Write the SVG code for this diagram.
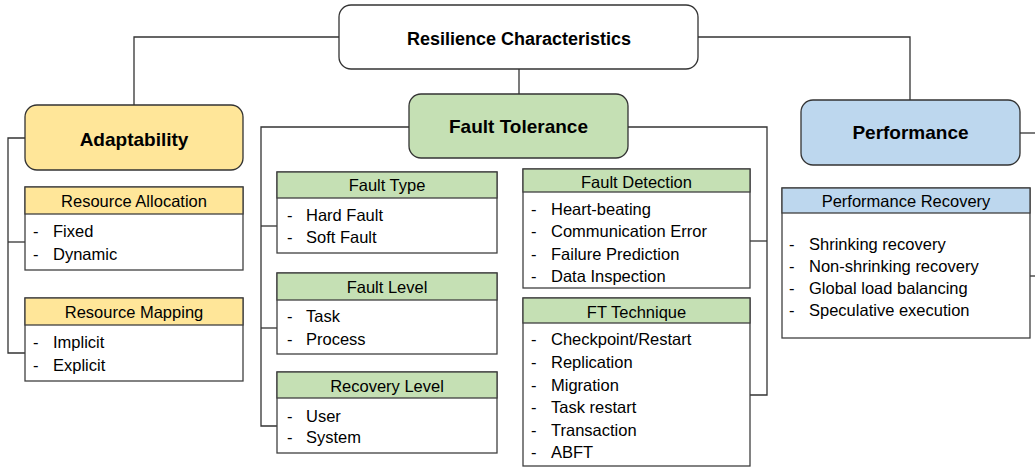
<svg xmlns="http://www.w3.org/2000/svg" width="1035" height="467" viewBox="0 0 1035 467">
  <style>
    text { font-family: "Liberation Sans", Arial, sans-serif; fill: #000; }
    .title { font-size: 19px; font-weight: bold; text-anchor: middle; }
    .root-title { font-size: 18px; }
    .head { font-size: 16.5px; text-anchor: middle; }
    .item { font-size: 16.5px; }
    .top { stroke: #333; stroke-width: 1.3; }
    .box { fill: #fff; stroke: #404040; stroke-width: 1.3; }
    .band { stroke: #404040; stroke-width: 1.3; }
    .link { fill: none; stroke: #333; stroke-width: 1.3; }
    .yellow { fill: #FFE699; }
    .green { fill: #C5E0B4; }
    .blue { fill: #BDD7EE; }
  </style>

  <!-- connectors -->
  <g id="connectors">
    <polyline class="link" points="339,37 134,37 134,105"/>
    <polyline class="link" points="698,37 910,37 910,100"/>
    <line class="link" x1="519" y1="69" x2="519" y2="94"/>
    <polyline class="link" points="25,138 8,138 8,353 25,353"/>
    <line class="link" x1="8" y1="242" x2="25" y2="242"/>
    <polyline class="link" points="409,127 261,127 261,426 277,426"/>
    <line class="link" x1="261" y1="226" x2="277" y2="226"/>
    <line class="link" x1="261" y1="328" x2="277" y2="328"/>
    <polyline class="link" points="628,127 767,127 767,395 750,395"/>
    <line class="link" x1="767" y1="241" x2="750" y2="241"/>
    <line class="link" x1="1020" y1="133" x2="1035" y2="133"/>
    <line class="link" x1="1030" y1="276" x2="1035" y2="276"/>
  </g>

  <!-- root -->
  <g id="resilience">
    <rect class="top" x="339" y="5" width="359" height="64" rx="12" fill="#fff"/>
    <text class="title root-title" x="519" y="45">Resilience Characteristics</text>
  </g>

  <!-- adaptability branch -->
  <g id="adaptability">
    <rect class="top yellow" x="25" y="105" width="218" height="65" rx="12"/>
    <text class="title" x="134" y="146">Adaptability</text>
  </g>
  <g id="resource-allocation">
    <rect class="box" x="25" y="187" width="218" height="83"/>
    <rect class="band yellow" x="25" y="187" width="218" height="27"/>
    <text class="head" x="134" y="207">Resource Allocation</text>
    <text class="item" x="33" y="237">-</text><text class="item" x="53" y="237">Fixed</text>
    <text class="item" x="33" y="260">-</text><text class="item" x="53" y="260">Dynamic</text>
  </g>
  <g id="resource-mapping">
    <rect class="box" x="25" y="298" width="218" height="83"/>
    <rect class="band yellow" x="25" y="298" width="218" height="27"/>
    <text class="head" x="134" y="318">Resource Mapping</text>
    <text class="item" x="33" y="348">-</text><text class="item" x="53" y="348">Implicit</text>
    <text class="item" x="33" y="371">-</text><text class="item" x="53" y="371">Explicit</text>
  </g>

  <!-- fault tolerance branch -->
  <g id="fault-tolerance">
    <rect class="top green" x="409" y="94" width="219" height="64" rx="12"/>
    <text class="title" x="518.5" y="133">Fault Tolerance</text>
  </g>
  <g id="fault-type">
    <rect class="box" x="277" y="172" width="220" height="81"/>
    <rect class="band green" x="277" y="172" width="220" height="26"/>
    <text class="head" x="387" y="191">Fault Type</text>
    <text class="item" x="287" y="221">-</text><text class="item" x="306" y="221">Hard Fault</text>
    <text class="item" x="287" y="243">-</text><text class="item" x="306" y="243">Soft Fault</text>
  </g>
  <g id="fault-level">
    <rect class="box" x="277" y="273" width="220" height="81"/>
    <rect class="band green" x="277" y="273" width="220" height="27"/>
    <text class="head" x="387" y="293">Fault Level</text>
    <text class="item" x="287" y="322">-</text><text class="item" x="306" y="322">Task</text>
    <text class="item" x="287" y="345">-</text><text class="item" x="306" y="345">Process</text>
  </g>
  <g id="recovery-level">
    <rect class="box" x="277" y="372" width="220" height="81"/>
    <rect class="band green" x="277" y="372" width="220" height="26"/>
    <text class="head" x="387" y="392">Recovery Level</text>
    <text class="item" x="287" y="422">-</text><text class="item" x="306" y="422">User</text>
    <text class="item" x="287" y="443">-</text><text class="item" x="306" y="443">System</text>
  </g>
  <g id="fault-detection">
    <rect class="box" x="523" y="169" width="227" height="119"/>
    <rect class="band green" x="523" y="169" width="227" height="23"/>
    <text class="head" x="636.5" y="188">Fault Detection</text>
    <text class="item" x="531" y="215">-</text><text class="item" x="551" y="215">Heart-beating</text>
    <text class="item" x="531" y="237">-</text><text class="item" x="551" y="237">Communication Error</text>
    <text class="item" x="531" y="260">-</text><text class="item" x="551" y="260">Failure Prediction</text>
    <text class="item" x="531" y="282">-</text><text class="item" x="551" y="282">Data Inspection</text>
  </g>
  <g id="ft-technique">
    <rect class="box" x="523" y="298" width="227" height="168"/>
    <rect class="band green" x="523" y="298" width="227" height="25"/>
    <text class="head" x="636.5" y="318">FT Technique</text>
    <text class="item" x="531" y="345">-</text><text class="item" x="551" y="345">Checkpoint/Restart</text>
    <text class="item" x="531" y="368">-</text><text class="item" x="551" y="368">Replication</text>
    <text class="item" x="531" y="391">-</text><text class="item" x="551" y="391">Migration</text>
    <text class="item" x="531" y="413">-</text><text class="item" x="551" y="413">Task restart</text>
    <text class="item" x="531" y="436">-</text><text class="item" x="551" y="436">Transaction</text>
    <text class="item" x="531" y="458">-</text><text class="item" x="551" y="458">ABFT</text>
  </g>

  <!-- performance branch -->
  <g id="performance">
    <rect class="top blue" x="801" y="100" width="219" height="65" rx="12"/>
    <text class="title" x="910.5" y="139">Performance</text>
  </g>
  <g id="performance-recovery">
    <rect class="box" x="782" y="188" width="248" height="150"/>
    <rect class="band blue" x="782" y="188" width="248" height="25"/>
    <text class="head" x="906" y="207">Performance Recovery</text>
    <text class="item" x="789" y="250">-</text><text class="item" x="809" y="250">Shrinking recovery</text>
    <text class="item" x="789" y="272">-</text><text class="item" x="809" y="272">Non-shrinking recovery</text>
    <text class="item" x="789" y="294">-</text><text class="item" x="809" y="294">Global load balancing</text>
    <text class="item" x="789" y="316">-</text><text class="item" x="809" y="316">Speculative execution</text>
  </g>
</svg>
